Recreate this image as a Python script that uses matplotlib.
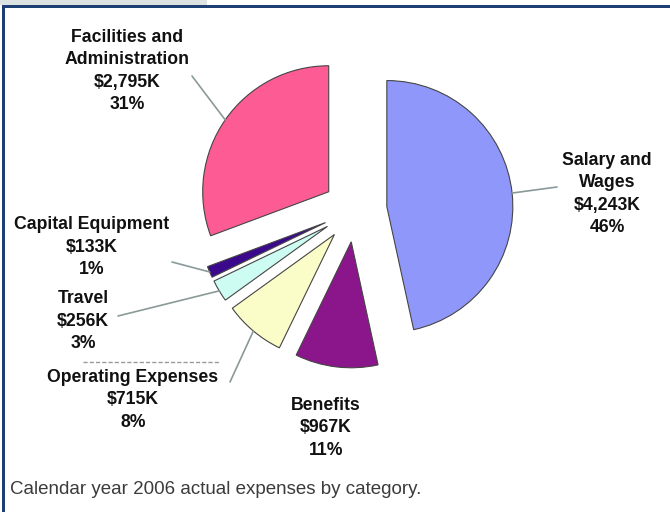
import matplotlib
matplotlib.use('Agg')
import matplotlib.pyplot as plt
from matplotlib.patches import Rectangle
import numpy as np

plt.rcParams['font.family'] = ['Liberation Sans', 'DejaVu Sans']

# data
categories = ['Salary and\nWages', 'Benefits', 'Operating Expenses', 'Travel',
              'Capital Equipment', 'Facilities and\nAdministration']
values = [4243, 967, 715, 256, 133, 2795]          # $K
value_labels = ['$4,243K', '$967K', '$715K', '$256K', '$133K', '$2,795K']
pct_labels = ['46%', '11%', '8%', '3%', '1%', '31%']
colors = ['#8f98fa', '#8b168b', '#fbfdc8', '#cdfdf2', '#3b0a8c', '#fc5b93']
caption = 'Calendar year 2006 actual expenses by category.'

W, H = 670, 512

def py(y):
    # pixel row (from top) -> data y
    return H - y

# label layout (pixel coords): text centre, leader end near the text (None = no leader)
label_pos = [(607, 194), (326, 428), (133, 400), (83, 321), (92, 247), (127, 71)]
leader_end = [(557, 187), None, (230, 382), (118, 316), (172, 262), (192, 76)]

fig = plt.figure(figsize=(W / 100, H / 100), dpi=100)
ax = fig.add_axes([0, 0, 1, 1])

radius = 126
# explode is an absolute offset in data units (= pixels here)
wedges, _ = ax.pie(values, colors=colors, startangle=90, counterclock=False,
                   center=(355, py(210)), radius=radius,
                   explode=[32] * len(values),
                   wedgeprops=dict(edgecolor='#454545', linewidth=0.8))
ax.set_xlim(0, W)
ax.set_ylim(0, H)
ax.set_aspect('equal')
ax.axis('off')

for i, w in enumerate(wedges):
    txt = f'{categories[i]}\n{value_labels[i]}\n{pct_labels[i]}'
    lx, ly = label_pos[i]
    ax.text(lx, py(ly), txt, ha='center', va='center', fontsize=12.7,
            fontweight='bold', linespacing=1.4, color='#111111')
    if leader_end[i] is not None:
        mid = np.deg2rad((w.theta1 + w.theta2) / 2)
        cx, cy = w.center
        x0 = cx + w.r * np.cos(mid)
        y0 = cy + w.r * np.sin(mid)
        ex, ey = leader_end[i]
        ax.plot([x0, ex], [y0, py(ey)], color='#8a9999', lw=1.2,
                solid_capstyle='round')

# faint clipped-text artifact under "3%"
ax.plot([83, 220], [py(362), py(362)], color='#9a9a9a', lw=1.0,
        dashes=(3, 1.5))

# caption
ax.text(10, py(490), caption, ha='left', va='center', fontsize=13.5,
        color='#3b3b3b')

# page frame: grey tab and dark blue border
ax.add_patch(Rectangle((0, py(5)), 207, 5, facecolor='#dde3e3',
                       edgecolor='none', clip_on=False))
ax.add_patch(Rectangle((2, py(8)), W - 2, 3, facecolor='#1d3f73',
                       edgecolor='none', clip_on=False))
ax.add_patch(Rectangle((2, 0), 3, py(5), facecolor='#1d3f73',
                       edgecolor='none', clip_on=False))

fig.savefig('out.png', dpi=100)
